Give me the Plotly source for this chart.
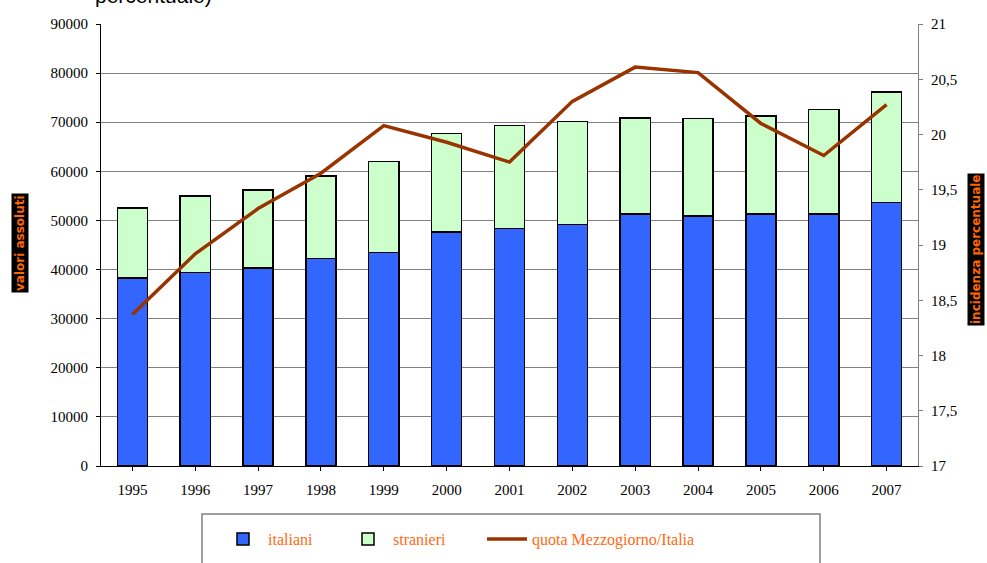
import plotly.graph_objects as go

years = ["1995", "1996", "1997", "1998", "1999", "2000", "2001",
         "2002", "2003", "2004", "2005", "2006", "2007"]
italiani = [38300, 39400, 40300, 42300, 43500, 47600, 48400,
            49200, 51300, 50900, 51300, 51300, 53700]
totale = [52500, 55000, 56200, 59100, 62000, 67700, 69300,
          70100, 70900, 70800, 71300, 72600, 76200]
stranieri = [t - i for t, i in zip(totale, italiani)]
quota = [18.37, 18.92, 19.33, 19.65, 20.08, 19.93, 19.75,
         20.30, 20.61, 20.56, 20.10, 19.81, 20.27]

left_ticks = [0, 10000, 20000, 30000, 40000, 50000, 60000, 70000, 80000, 90000]
right_ticks = [17, 17.5, 18, 18.5, 19, 19.5, 20, 20.5, 21]
right_labels = ["17", "17,5", "18", "18,5", "19", "19,5", "20", "20,5", "21"]

ORANGE = "#FF6A13"
SERIF = "Liberation Serif, Times New Roman, serif"

W, H = 987, 563
L, R, T, B = 101, 918, 24, 466
def px(x):
    return (x - L) / (R - L)
def py(y):
    return (B - y) / (B - T)

fig = go.Figure()
fig.add_trace(go.Bar(x=years, y=italiani, name="italiani", legend="legend",
                     marker=dict(color="#3366FF", line=dict(color="black", width=1.5))))
fig.add_trace(go.Bar(x=years, y=stranieri, name="stranieri", legend="legend2",
                     marker=dict(color="#CCFFCC", line=dict(color="black", width=1.5))))
fig.add_trace(go.Scatter(x=years, y=quota, name="quota Mezzogiorno/Italia", yaxis="y2",
                         legend="legend3",
                         mode="lines", line=dict(color="#993300", width=3.5)))

def leg(xpix):
    return dict(orientation="h", x=px(xpix), y=py(539), yanchor="middle", xanchor="left",
                font=dict(family=SERIF, size=16, color=ORANGE),
                bgcolor="rgba(0,0,0,0)", itemwidth=40, borderwidth=0)

fig.update_layout(
    width=W, height=H,
    margin=dict(l=L, r=W - R, t=T, b=H - B, autoexpand=False),
    paper_bgcolor="white", plot_bgcolor="white",
    barmode="stack", bargap=0.52,
    showlegend=True,
    legend=leg(218), legend2=leg(343), legend3=leg(482),
    xaxis=dict(type="category", showline=True, linecolor="black", linewidth=1,
               ticks="outside", ticklen=4, tickcolor="black", ticklabelstandoff=6,
               tickfont=dict(family=SERIF, size=15, color="black"), showgrid=False),
    yaxis=dict(range=[0, 90000], tickvals=left_ticks, showline=True, linecolor="black",
               linewidth=1, ticks="outside", ticklen=4, tickcolor="black",
               tickformat="d", ticklabelstandoff=5,
               tickfont=dict(family=SERIF, size=15, color="black"),
               showgrid=True, gridcolor="#808080", gridwidth=1, zeroline=False),
    yaxis2=dict(range=[17, 21], overlaying="y", side="right", tickvals=right_ticks,
                ticktext=right_labels, showline=True, linecolor="#808080", linewidth=1,
                ticks="outside", ticklen=4, tickcolor="#808080", ticklabelstandoff=5,
                tickfont=dict(family=SERIF, size=15, color="black"),
                showgrid=False, zeroline=False),
    shapes=[dict(type="rect", xref="paper", yref="paper",
                 x0=px(202), x1=px(820), y0=py(600), y1=py(514),
                 line=dict(color="#808080", width=1.5), fillcolor="rgba(0,0,0,0)",
                 layer="below")],
    annotations=[
        dict(text="percentuale)", xref="paper", yref="paper", x=px(93), y=py(9),
             xanchor="left", yanchor="bottom", showarrow=False,
             font=dict(family="Liberation Sans, Arial, sans-serif", size=21, color="black")),
        dict(text="<b>valori assoluti</b>", xref="paper", yref="paper",
             x=px(20), y=py(243), xanchor="center", yanchor="middle", textangle=-90,
             showarrow=False, bgcolor="black", borderpad=1,
             font=dict(family="DejaVu Sans, sans-serif", size=12, color="#FF6600")),
        dict(text="<b>incidenza percentuale</b>", xref="paper", yref="paper",
             x=px(976), y=py(250), xanchor="center", yanchor="middle", textangle=-90,
             showarrow=False, bgcolor="black", borderpad=1,
             font=dict(family="DejaVu Sans, sans-serif", size=12, color="#FF6600")),
    ],
)

fig.write_html("out.html", config={"displayModeBar": False},
               post_script="document.body.style.margin='0';document.body.style.overflow='hidden';")
